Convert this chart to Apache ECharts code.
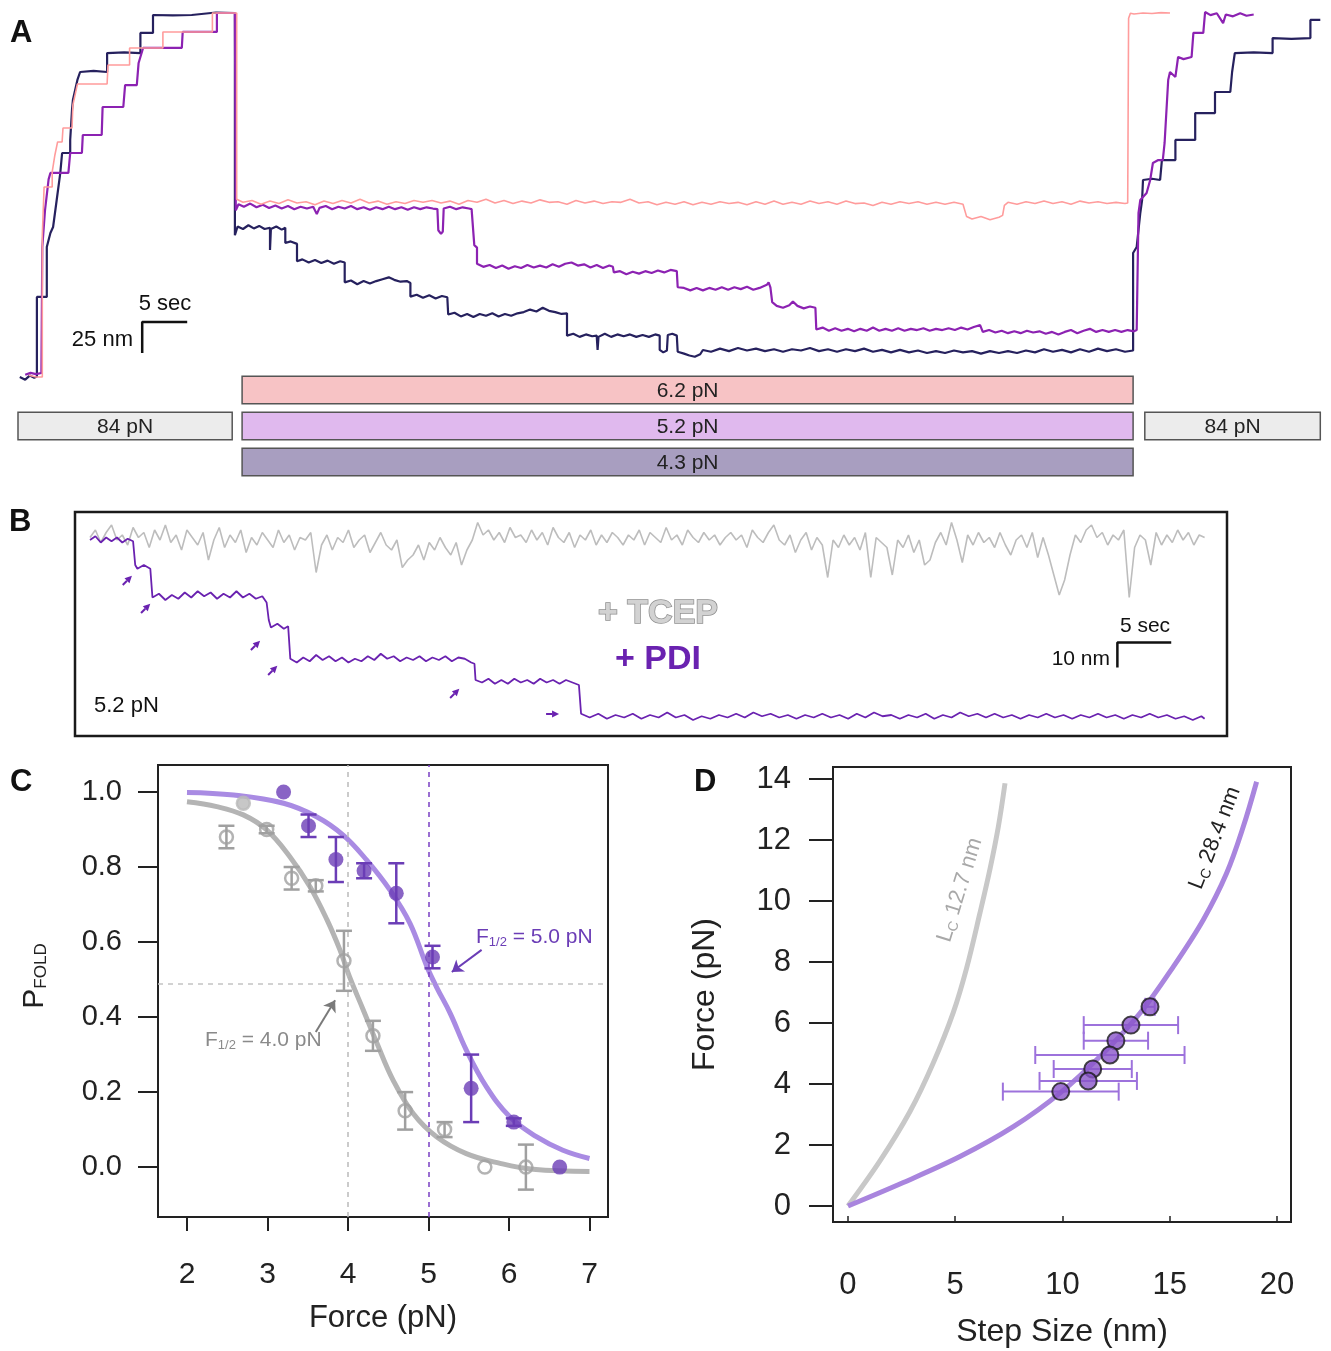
<!DOCTYPE html>
<html>
<head>
<meta charset="utf-8">
<script src="https://cdn.jsdelivr.net/npm/echarts@6/dist/echarts.min.js"></script>
<style>
html,body{margin:0;padding:0;background:#fff;}
#chart{width:1331px;height:1351px;}
</style>
</head>
<body>
<div id="chart"></div>
<script>
// ================= DATA =================
// Panel A: extension (nm) vs time (s), three traces
const traceNavy = [
[0.2,5.6],[0.8,3.5],[1.3,6.8],[1.8,5.0],[2.1,6.0],
[2.1,70.2],[3.2,70.2],[3.2,110.5],[3.6,121.8],[3.9,126.6],[4.3,148.4],[4.7,170.2],[4.9,186.3],[5.8,186.3],[5.8,196.8],[6.0,221],[6.1,229],[6.6,245.2],[6.9,251.6],[8.4,252.5],[9.9,251.6],[9.9,266.9],[11.8,267.5],[13.6,266.9],[13.6,283.1],[15.0,283.1],[15.0,297.6],[17.2,297.2],[19.3,297.6],[19.3,299.2],[22.0,299.6],[24.1,299.2],
[24.1,120],[24.4,127],[25,125],[25.6,128],[26.2,125.5],[26.8,127.5],[27.4,125],[28.0,126],[28.0,108.1],[28.1,125],[28.7,127],[29.3,124.5],[29.7,126],[29.7,113.7],[30.3,115],[31.0,113],[31.0,99],[31.6,100.5],[32.3,98],[33,100],[33.7,97.5],[34.4,99.5],[35.1,97],[35.8,99],[36.3,98],[36.3,82],[37,83.5],[37.7,80.5],[38.4,83],[39.1,81],[39.8,83],[40.5,84.5],[41.2,86],[41.8,84],[42.5,82.5],[43.2,83],[43.6,81.5],[43.6,70.5],[44.3,72],[45,69.5],[45.7,71.5],[46.4,69],[47.1,71],[47.7,70],[47.8,56],[48.5,57.5],[49.2,54.5],[49.9,56.5],[50.6,54],[51.3,56.5],[52,55],[52.7,57],[53.4,54.5],[54.1,56.5],[54.8,55],[55.5,57],[56.2,58],[56.9,60],[57.6,58.5],[58.3,61.5],[59,59],[59.7,58],[60.4,56.5],[61,57],[61,39],[61.7,40.5],[62.4,38],[63.1,40],[63.8,38.5],[64.3,39],[64.4,27.5],[64.5,38],[65.2,40.5],[65.9,38],[66.6,40],[67.3,38.5],[68,40],[68.7,38],[69.4,39.5],[70.1,38],[70.8,40],[71.3,39],[71.3,27.5],[71.7,25.5],[72.1,27],[72.2,39.5],[72.7,40.5],[73.2,39],[73.3,26],[74,24.5],[74.6,23],[75.2,22],[75.8,24],[76.1,27.4],[77,26],[78,28.5],[79,26.5],[80,29],[81,27],[82,28.5],[83,26.5],[84,28],[85,26],[86,28],[87,27],[88,29],[89,26.5],[90,28],[91,26],[92,28],[93,26.5],[94,28.5],[95,26],[96,27.5],[97,25.5],[98,27.5],[99,25.5],[100,27],[101,25],[102,26.5],[103,25],[104,27],[105,25.5],[106,26.5],[107,24.5],[108,26.5],[109,25],[110,26.5],[111,25],[112,27],[113,25.5],[114,28],[115,26],[116,27.5],[117,25.5],[118,28],[119,26],[120,28.5],[121,26.5],[122,28],[123,26],[123.9,27],
[123.9,105.6],[124.3,110.5],[124.7,137.9],[124.9,148.4],[125.0,164.5],[126.0,165.5],[126.9,164.5],[127.1,180.6],[128.6,180.6],[128.6,196.8],[130.8,196.8],[130.8,218.5],[133.0,218.5],[133.0,235.5],[134.7,235.5],[134.9,251.6],[135.2,266.9],[137.3,267.5],[139.4,266.9],[139.4,279.0],[141.5,278.4],[143.6,279.0],[143.6,293.6],[144.7,293.6]
];
const tracePurple = [
[0.8,7.5],[1.4,9.0],[2.0,8.0],[2.6,8.9],[2.7,8.9],
[2.7,110.5],[3.0,140],[3.4,165],[3.6,170.2],[5.6,170.2],[5.8,186.3],[7.1,186.3],[7.2,200.8],[9.3,200.8],[9.4,223.4],[11.7,223.4],[11.9,241.1],[13.2,241.1],[13.4,258.9],[13.9,271],[18.2,271],[18.3,283.9],[22.1,283.9],[22.1,299.2],[24.1,299.2],
[24.2,140],[24.5,145],[25.1,143],[25.8,145.5],[26.5,142.5],[27.2,144.5],[27.9,142],[28.6,144],[29.3,141.5],[30,143.5],[30.7,141],[31.4,143],[32.1,141.5],[32.8,143],[33.2,137],[33.5,142],[34.2,143.5],[34.9,141],[35.6,143],[36.3,141.5],[37,143.5],[37.7,141],[38.4,142.5],[39.1,140.5],[39.8,142.5],[40.5,141],[41.2,143],[41.9,141],[42.6,142.5],[43.3,140.5],[44,142.5],[44.7,141],[45.4,142.5],[46.1,141.5],[46.6,141],[46.7,124],[47.0,121],[47.2,123],[47.3,141.5],[48,143],[48.7,141],[49.4,142.5],[50.1,141.5],[50.4,141],[50.7,112],[51.0,110],[51.0,97],[51.7,94.5],[52.4,96],[53.1,93.5],[53.8,95.5],[54.5,93],[55.2,95],[55.9,93.5],[56.6,96],[57.3,94],[58,95.5],[58.7,94],[59.4,96.5],[60.1,94.5],[60.8,97],[61.5,98],[62.2,95.5],[62.9,96.5],[63.6,94],[64.3,96],[65,93.5],[65.7,95.5],[66.1,94.5],[66.2,90],[66.9,91],[67.6,88.5],[68.3,90.5],[69,89],[69.7,91],[70.4,89.5],[71.1,91.5],[71.8,90],[72.5,92],[73.2,91],[73.3,78],[74,77.5],[74.7,75.5],[75.4,77.5],[76.1,75.5],[76.8,77.5],[77.5,76],[78.2,78],[78.9,76],[79.6,78],[80.3,76.5],[81,78.5],[81.7,76],[82.4,77.5],[83.2,80],[83.4,82],[83.6,78],[83.8,66],[84.3,63],[85,61.5],[85.7,63.5],[86.1,66.5],[86.6,63],[87.3,61],[88,62.5],[88.6,61.5],[88.7,44],[89.4,45.5],[90.1,43],[90.8,45],[91.5,43],[92.2,44.5],[92.9,42.5],[93.6,44.5],[94.3,43],[95,45.5],[95.7,43],[96.4,44.5],[97.1,43],[97.8,45],[98.5,43],[99.2,44.5],[99.9,43.5],[100.6,45],[101.3,43],[102,44.5],[102.7,43.5],[103.4,45],[104.1,43.5],[104.8,45.5],[105.5,44],[106.2,46],[106.9,47.5],[107.2,42],[107.9,43.5],[108.6,41.5],[109.3,43],[110,41],[110.7,42.5],[111.4,41],[112.1,43],[112.8,41.5],[113.5,42.5],[114.2,40.5],[114.9,42],[115.6,40],[116.3,42],[117,43.5],[117.7,41],[118.4,43],[119.1,44.5],[119.8,42],[120.5,43.5],[121.2,42],[121.9,43.5],[122.6,42],[123.3,43.5],[124.0,42.5],[124.3,43.5],
[124.5,137.9],[124.7,148.4],[125.4,154],[125.8,164.5],[126.1,178.2],[126.7,180.6],[127.2,180.6],[127.4,194.4],[127.8,245.2],[128.0,251.6],[128.6,247.6],[128.9,263.7],[129.5,262],[130.4,263.7],[130.6,283.1],[131.7,283.1],[131.9,300],[132.5,297.5],[133.2,299],[133.9,291],[134.2,298],[135,296.5],[135.8,299],[136.5,297],[137.3,298]
];
const tracePink = [
[1.2,7.0],[2.0,5.6],[2.7,5.6],[2.7,120],[2.9,158.9],[3.8,158.9],[3.8,171],[4.1,184.7],[4.4,195.2],[4.9,195.2],[5.0,206.5],[6.0,206.5],[6.1,225],[6.6,241.9],[9.9,241.9],[10.0,257.3],[12.4,257.3],[12.4,271],[16.1,271],[16.1,283.9],[21.6,283.9],[21.6,299.2],[24.3,299.2],
[24.3,149],[25,146.5],[26,148],[27,145],[28,147.5],[29,145.5],[30,148.5],[31,146],[32,147],[33,144.5],[34,147.5],[35,145.5],[36,148],[37,146],[38,149],[39,146],[40,147.5],[41,145],[42,147],[43,145.5],[44,148],[45,146.5],[46,148],[47,146],[48,147.5],[49,145],[50,148],[51,146.5],[52,149],[53,146],[54,148],[55,145.5],[56,147.5],[57,146],[58,148.5],[59,146.5],[60,147],[61,145],[62,148],[63,146],[64,147.5],[65,145.5],[66,147],[67,146.5],[68,149],[69,146],[70,147],[71,144.5],[72,146.5],[73,145],[74,147],[75,144.5],[76,146.5],[77,145],[78,147],[79,145.5],[80,146.5],[81,144.5],[82,147],[83,145],[84,147.5],[85,145],[86,146.5],[87,145],[88,147.5],[89,145.5],[90,147],[91,145],[92,147.5],[93,145.5],[94,146],[95,144],[96,146.5],[97,145],[98,147],[99,145.5],[100,147],[101,145],[102,146.5],[103,145],[104,146.5],[105,145],[105.4,135],[106,133],[107,135],[108,132.5],[109,134.5],[109.4,136],[109.6,144],[110,146.5],[111,145],[112,147],[113,145.5],[114,147.5],[115,145.5],[116,147],[117,145],[118,147.5],[119,146],[120,147],[121,145.5],[122,146.5],[123,145.5],[123.3,146],
[123.4,295],[123.6,299],[124,298.4],[125,299.2],[126,298.8],[127,299.5],[128,299.2]
];
// Panel A: force protocol bars
const forceStart = [24.9, 24.9, 24.9, 0, 125.2];
const forceEnd   = [123.9, 123.9, 123.9, 23.8, 144.7];
const forceRow   = [0.5, 1.5, 2.5, 1.5, 1.5];
const forceLabels = ['6.2 pN', '5.2 pN', '4.3 pN', '84 pN', '84 pN'];

// Panel B: +TCEP trace sampled every 0.5 s (nm)
const tcepDt = 0.5;
const tcepTrace = [
77,80,75,79,82,76,78,74,81,77,79,73,80,76,82,75,78,72,80,77,
74,79,68,76,81,73,78,75,80,71,77,74,79,76,73,80,75,78,72,77,
76,79,63,74,78,72,77,75,80,73,76,78,71,75,79,74,72,76,65,68,
70,74,68,75,72,77,73,70,75,66,72,76,83,78,80,76,79,75,81,77,
78,75,80,76,79,74,81,77,75,79,73,78,76,80,74,78,75,79,77,74,
78,76,80,74,79,77,75,81,76,78,74,80,77,75,79,76,78,74,77,79,
76,78,73,80,77,75,79,82,76,74,78,71,76,79,72,77,74,61,76,73,
78,74,77,72,79,61,77,75,73,62,76,73,78,71,76,66,68,75,79,74,
83,76,67,78,74,79,75,77,73,79,74,70,76,78,73,79,69,77,70,62,
54,60,70,78,75,80,82,77,79,74,78,76,80,53,73,78,76,66,79,74,
78,75,80,76,79,74,78,77
];
// Panel B: +PDI trace (t s, nm)
const pdiTrace = [
[0,76],[0.5,77.5],[1,75],[1.5,77],[2,75.5],[2.5,77],[3,75],[3.5,76.5],[4.0,75.5],[4.2,66],[4.4,64.5],[5,66],[5.6,64.5],[5.8,53],[6.4,54.5],[7,52],[7.6,54],[8.2,52.5],[8.8,55],[9.4,53],[10,55.5],[10.6,53.5],[11.2,55],[11.8,52.5],[12.4,54.5],[13,53],[13.6,55.5],[14.2,53],[14.8,54.5],[15.4,52.5],[16,53.5],[16.4,51],[16.6,44],[16.8,41],[17.4,42.5],[18,40.5],[18.4,41.5],[18.6,28.5],[19.2,27],[19.8,29],[20.4,27.5],[21,30],[21.6,28],[22.2,29.5],[22.8,27.5],[23.4,29],[24,27],[24.6,28.5],[25.2,27.5],[25.8,29.5],[26.4,28],[27,30.5],[27.6,28.5],[28.2,29.5],[28.8,27.5],[29.4,29],[30,28],[30.6,29.5],[31.2,27.5],[31.8,29],[32.4,28],[33,29.5],[33.6,27.5],[34.2,29],[34.8,28.5],[35.4,27],[35.7,26.5],[35.8,20],[36.4,19],[37,20.5],[37.6,18.5],[38.2,20],[38.8,18.5],[39.4,20.5],[40,19],[40.6,20],[41.2,18.5],[41.8,20.5],[42.4,19],[43,20],[43.6,18.5],[44.2,20],[44.8,19],[45.4,18],[45.6,6.5],
[46.4,5],[47.2,6.5],[48,4.5],[48.8,6],[49.6,5],[50.4,6.5],[51.2,4.5],[52,6],[52.8,5],[53.6,7],[54.4,5],[55.2,6],[56,4],[56.8,5.5],[57.6,4.5],[58.4,6],[59.2,5],[60,6.5],[60.8,5],[61.6,7],[62.4,5.5],[63.2,6.5],[64,5],[64.8,6],[65.6,4.5],[66.4,6],[67.2,5],[68,6.5],[68.8,5],[69.6,6],[70.4,4.5],[71.2,6.5],[72,5],[72.8,7],[73.6,5.5],[74.4,6],[75.2,4.5],[76,6],[76.8,5],[77.6,6.5],[78.4,4.5],[79.2,6],[80,5],[80.8,7],[81.6,5.5],[82.4,6.5],[83.2,5],[84,6.5],[84.8,5],[85.6,6],[86.4,4.5],[87.2,6],[88,5],[88.8,6.5],[89.6,5],[90.4,6],[91.2,4.5],[92,6],[92.8,5],[93.6,6.5],[94.4,5],[95.2,6],[96,4.5],[96.8,6],[97.6,5],[98.4,6.5],[99.2,5],[100,6],[100.8,4.5],[101.6,5.5],[102.4,4],[103.2,5.5],[103.5,4.5]
];
// Panel B: folding-step arrows [t, nm, angle deg]
const pdiArrows = [[3.5,60,45],[5.2,48.8,45],[15.4,34,45],[17.0,24,45],[33.9,14.8,45],[43.0,6.4,0]];

// Panel C: P_fold vs force
const tcepForce = [2.49, 2.70, 2.99, 3.30, 3.60, 3.95, 4.31, 4.71, 5.20, 5.70, 6.21];
const tcepPfold = [0.88, 0.97, 0.90, 0.77, 0.75, 0.55, 0.35, 0.15, 0.10, 0.00, 0.00];
const tcepErr   = [0.03, 0.00, 0.01, 0.03, 0.015, 0.08, 0.04, 0.05, 0.02, 0.00, 0.06];
const pdiForce  = [3.20, 3.51, 3.85, 4.20, 4.60, 5.05, 5.53, 6.06, 6.63];
const pdiPfold  = [1.00, 0.91, 0.82, 0.79, 0.73, 0.56, 0.21, 0.12, 0.00];
const pdiErr    = [0.00, 0.03, 0.06, 0.02, 0.08, 0.03, 0.09, 0.01, 0.00];
const fitTcepF = [2.0, 2.37, 2.70, 2.99, 3.28, 3.53, 3.74, 3.90, 4.02, 4.19, 4.36, 4.56, 4.81, 5.10, 5.47, 5.89, 6.30, 7.0];
const fitTcepP = [0.974, 0.961, 0.939, 0.899, 0.827, 0.747, 0.659, 0.579, 0.507, 0.419, 0.330, 0.232, 0.143, 0.081, 0.036, 0.010, -0.006, -0.012];
const fitPdiF = [2.0, 2.58, 3.20, 3.61, 3.94, 4.23, 4.52, 4.77, 4.98, 5.10, 5.27, 5.47, 5.72, 6.01, 6.34, 6.67, 7.0];
const fitPdiP = [0.999, 0.992, 0.970, 0.934, 0.885, 0.819, 0.739, 0.650, 0.535, 0.480, 0.410, 0.312, 0.214, 0.134, 0.081, 0.045, 0.023];
const cXTicks = [2, 3, 4, 5, 6, 7];
const cYTicks = [0, 0.2, 0.4, 0.6, 0.8, 1.0];

// Panel D: force vs step size
const stepSize  = [14.08, 13.19, 12.49, 12.21, 11.41, 11.20, 9.92];
const stepForce = [6.53, 5.93, 5.42, 4.95, 4.49, 4.10, 3.75];
const stepErr   = [0.22, 2.20, 1.50, 3.48, 1.82, 2.27, 2.70];
const wlcShortX = [0, 1.49, 2.89, 3.98, 4.91, 5.53, 6.15, 6.62, 7.01, 7.32];
const wlcShortY = [0, 1.48, 3.10, 4.70, 6.35, 7.80, 9.60, 11.05, 12.44, 13.86];
const wlcLongX  = [0, 2.58, 5.22, 7.71, 9.88, 11.90, 13.61, 15.17, 16.56, 17.65, 18.43, 19.05];
const wlcLongY  = [0, 0.77, 1.62, 2.60, 3.70, 5.01, 6.32, 7.85, 9.38, 10.91, 12.44, 13.91];
const dXTicks = [0, 5, 10, 15, 20];
const dYTicks = [0, 2, 4, 6, 8, 10, 12, 14];

// ================= STYLE =================
const FONT = '"Liberation Sans", Arial, Helvetica, sans-serif';
const C_NAVY = '#26215e', C_PURP = '#8c22b2', C_PINK = '#ff9c9c';
const forceColors = ['#f7c3c5', '#e0b9ee', '#a89ec0', '#ececec', '#ececec'];
const C_PDI = '#6b3db6';

const zip = (a, b) => a.map((v, i) => [v, b[i]]);

function vErr(color, cap) {
  return function (params, api) {
    const x = api.value(0), y = api.value(1), e = api.value(2);
    if (!e) return { type: 'group', children: [] };
    const a = api.coord([x, y - e]), b = api.coord([x, y + e]);
    const st = { stroke: color, lineWidth: 2.5 };
    return { type: 'group', children: [
      { type: 'line', shape: { x1: a[0], y1: a[1], x2: b[0], y2: b[1] }, style: st },
      { type: 'line', shape: { x1: a[0] - cap, y1: a[1], x2: a[0] + cap, y2: a[1] }, style: st },
      { type: 'line', shape: { x1: b[0] - cap, y1: b[1], x2: b[0] + cap, y2: b[1] }, style: st }
    ]};
  };
}
function hErr(color, cap) {
  return function (params, api) {
    const x = api.value(0), y = api.value(1), e = api.value(2);
    const a = api.coord([x - e, y]), b = api.coord([x + e, y]);
    const st = { stroke: color, lineWidth: 2 };
    return { type: 'group', children: [
      { type: 'line', shape: { x1: a[0], y1: a[1], x2: b[0], y2: b[1] }, style: st },
      { type: 'line', shape: { x1: a[0], y1: a[1] - cap, x2: a[0], y2: a[1] + cap }, style: st },
      { type: 'line', shape: { x1: b[0], y1: b[1] - cap, x2: b[0], y2: b[1] + cap }, style: st }
    ]};
  };
}

const chart = echarts.init(document.getElementById('chart'), null, { renderer: 'canvas' });

const hiddenAxis = (g, min, max, inverse) => ({ gridIndex: g, type: 'value', min, max, inverse: !!inverse, show: false });

const option = {
  animation: false,
  backgroundColor: '#ffffff',
  textStyle: { fontFamily: FONT },
  grid: [
    { left: 18, top: 12, width: 1305, height: 372 },
    { left: 18, top: 372, width: 1305, height: 108 },
    { left: 90, top: 514, width: 1120, height: 216 },
    { left: 158, top: 765, width: 450, height: 452, show: true, borderColor: '#222', borderWidth: 2, backgroundColor: 'transparent' },
    { left: 833, top: 767, width: 458, height: 455, show: true, borderColor: '#222', borderWidth: 2, backgroundColor: 'transparent' }
  ],
  xAxis: [
    hiddenAxis(0, 0, 145),
    hiddenAxis(1, 0, 145),
    hiddenAxis(2, 0, 104),
    { gridIndex: 3, type: 'value', min: 1.64, max: 7.23,
      name: 'Force (pN)', nameLocation: 'middle', nameGap: 86,
      nameTextStyle: { fontSize: 31, color: '#222', fontFamily: FONT },
      axisLine: { show: true, onZero: false, lineStyle: { color: '#222', width: 2 } },
      axisTick: { show: true, inside: false, length: 14, lineStyle: { color: '#222', width: 2 }, customValues: cXTicks },
      axisLabel: { fontSize: 30, color: '#222', margin: 43, customValues: cXTicks, fontFamily: FONT },
      splitLine: { show: false } },
    { gridIndex: 4, type: 'value', min: -0.699, max: 20.653,
      name: 'Step Size (nm)', nameLocation: 'middle', nameGap: 94,
      nameTextStyle: { fontSize: 32, color: '#222', fontFamily: FONT },
      axisLine: { show: true, onZero: false, lineStyle: { color: '#222', width: 2 } },
      axisTick: { show: true, inside: true, length: 6, lineStyle: { color: '#222', width: 1.5 }, customValues: dXTicks },
      axisLabel: { fontSize: 31, color: '#222', margin: 48, customValues: dXTicks, fontFamily: FONT },
      splitLine: { show: false } }
  ],
  yAxis: [
    hiddenAxis(0, 0, 300),
    hiddenAxis(1, 0, 3, true),
    hiddenAxis(2, 0, 86.4),
    { gridIndex: 3, type: 'value', min: -0.133, max: 1.072,
      name: '{p|P}{s|FOLD}', nameLocation: 'middle', nameGap: 108, nameRotate: 90,
      nameTextStyle: { color: '#222', padding: [0, 0, 0, 30], rich: { p: { fontSize: 30, color: '#222', fontFamily: FONT }, s: { fontSize: 17, color: '#222', fontFamily: FONT, verticalAlign: 'bottom', padding: [12, 0, 0, 0] } } },
      axisLine: { show: true, onZero: false, lineStyle: { color: '#222', width: 2 } },
      axisTick: { show: true, inside: false, length: 20, lineStyle: { color: '#222', width: 2 }, customValues: cYTicks },
      axisLabel: { fontSize: 29, color: '#222', margin: 36, customValues: cYTicks, formatter: v => (+v).toFixed(1), fontFamily: FONT },
      splitLine: { show: false } },
    { gridIndex: 4, type: 'value', min: -0.525, max: 14.393,
      name: 'Force (pN)', nameLocation: 'middle', nameGap: 112, nameRotate: 90,
      nameTextStyle: { fontSize: 32, color: '#222', fontFamily: FONT },
      axisLine: { show: true, onZero: false, lineStyle: { color: '#222', width: 2 } },
      axisTick: { show: true, inside: false, length: 24, lineStyle: { color: '#222', width: 2 }, customValues: dYTicks },
      axisLabel: { fontSize: 31, color: '#222', margin: 42, customValues: dYTicks, fontFamily: FONT },
      splitLine: { show: false } }
  ],
  series: [
    // ---- Panel A traces
    { type: 'line', xAxisIndex: 0, yAxisIndex: 0, data: traceNavy, showSymbol: false, silent: true,
      lineStyle: { color: C_NAVY, width: 2.2 } },
    { type: 'line', xAxisIndex: 0, yAxisIndex: 0, data: tracePurple, showSymbol: false, silent: true,
      lineStyle: { color: C_PURP, width: 2.2 } },
    { type: 'line', xAxisIndex: 0, yAxisIndex: 0, data: tracePink, showSymbol: false, silent: true,
      lineStyle: { color: C_PINK, width: 1.6 } },
    // scale bar A: 5 s x 25 nm
    { type: 'line', xAxisIndex: 0, yAxisIndex: 0, data: [[18.8, 50], [13.8, 50], [13.8, 25]], showSymbol: false, silent: true,
      lineStyle: { color: '#111', width: 2.5 } },
    // force protocol bars
    { type: 'custom', xAxisIndex: 1, yAxisIndex: 1, silent: true,
      data: forceStart.map((s, i) => [s, forceEnd[i], forceRow[i], i]),
      encode: { x: [0, 1], y: 2 },
      renderItem: (params, api) => {
        const i = api.value(3);
        const p1 = api.coord([api.value(0), api.value(2) - 0.38]);
        const p2 = api.coord([api.value(1), api.value(2) + 0.38]);
        return { type: 'group', children: [
          { type: 'rect', shape: { x: p1[0], y: p1[1], width: p2[0] - p1[0], height: p2[1] - p1[1] },
            style: { fill: forceColors[i], stroke: '#555', lineWidth: 1.5 } },
          { type: 'text', style: { text: forceLabels[i], x: (p1[0] + p2[0]) / 2, y: (p1[1] + p2[1]) / 2 + 1,
            align: 'center', verticalAlign: 'middle', fontSize: 21, fill: '#222', fontFamily: FONT } }
        ]};
      } },
    // ---- Panel B
    { type: 'line', xAxisIndex: 2, yAxisIndex: 2, data: tcepTrace.map((v, i) => [i * tcepDt, v]), showSymbol: false, silent: true,
      lineStyle: { color: '#bdbdbd', width: 1.6 } },
    { type: 'line', xAxisIndex: 2, yAxisIndex: 2, data: pdiTrace, showSymbol: false, silent: true,
      lineStyle: { color: '#6a22b0', width: 1.8 } },
    { type: 'line', xAxisIndex: 2, yAxisIndex: 2, data: [[100.4, 35], [95.4, 35], [95.4, 25]], showSymbol: false, silent: true,
      lineStyle: { color: '#111', width: 2.5 } },
    { type: 'custom', xAxisIndex: 2, yAxisIndex: 2, silent: true, data: pdiArrows, encode: { x: 0, y: 1 },
      renderItem: (params, api) => {
        const c = api.coord([api.value(0), api.value(1)]);
        const a = api.value(2) * Math.PI / 180;
        const dx = Math.cos(a), dy = -Math.sin(a), px = -dy, py = dx;
        const tip = [c[0] + 6 * dx, c[1] + 6 * dy];
        const base = [tip[0] - 7 * dx, tip[1] - 7 * dy];
        return { type: 'group', children: [
          { type: 'line', shape: { x1: c[0] - 7 * dx, y1: c[1] - 7 * dy, x2: base[0], y2: base[1] }, style: { stroke: '#6a22b0', lineWidth: 2 } },
          { type: 'polygon', shape: { points: [tip, [base[0] + 3.5 * px, base[1] + 3.5 * py], [base[0] - 3.5 * px, base[1] - 3.5 * py]] }, style: { fill: '#6a22b0' } }
        ]};
      } },
    // ---- Panel C
    { type: 'line', xAxisIndex: 3, yAxisIndex: 3, data: zip(fitTcepF, fitTcepP), smooth: 0.4, showSymbol: false, silent: true,
      lineStyle: { color: '#b4b4b4', width: 5 }, z: 3,
      markLine: { silent: true, symbol: ['none', 'none'], label: { show: false }, animation: false,
        data: [
          { xAxis: 4.0, lineStyle: { type: [5, 5], color: '#bbbbbb', width: 1.5 } },
          { yAxis: 0.49, lineStyle: { type: [5, 5], color: '#c4c4c4', width: 1.5 } },
          [ { coord: [3.60, 0.36], symbol: 'none', lineStyle: { type: 'solid', color: '#7a7a7a', width: 2 } },
            { coord: [3.84, 0.445], symbol: 'arrow', symbolSize: 11 } ]
        ] } },
    { type: 'line', xAxisIndex: 3, yAxisIndex: 3, data: zip(fitPdiF, fitPdiP), smooth: 0.4, showSymbol: false, silent: true,
      lineStyle: { color: '#a98be3', width: 5 }, z: 3,
      markLine: { silent: true, symbol: ['none', 'none'], label: { show: false }, animation: false,
        data: [
          { xAxis: 5.0, lineStyle: { type: [5, 5], color: '#7a3fc4', width: 1.5 } },
          [ { coord: [5.66, 0.579], symbol: 'none', lineStyle: { type: 'solid', color: '#6b3db6', width: 2 } },
            { coord: [5.29, 0.52], symbol: 'arrow', symbolSize: 11 } ]
        ] } },
    { type: 'custom', xAxisIndex: 3, yAxisIndex: 3, silent: true, z: 4,
      data: tcepForce.map((f, i) => [f, tcepPfold[i], tcepErr[i]]), encode: { x: 0, y: 1 }, renderItem: vErr('#a0a0a0', 8) },
    { type: 'custom', xAxisIndex: 3, yAxisIndex: 3, silent: true, z: 4,
      data: pdiForce.map((f, i) => [f, pdiPfold[i], pdiErr[i]]), encode: { x: 0, y: 1 }, renderItem: vErr(C_PDI, 8) },
    { type: 'scatter', xAxisIndex: 3, yAxisIndex: 3, silent: true, z: 5, symbol: 'circle', symbolSize: 13,
      data: tcepForce.map((f, i) => i === 1
        ? { value: [f, tcepPfold[i]], itemStyle: { color: '#b9b9b9', borderColor: '#b9b9b9' } }
        : { value: [f, tcepPfold[i]] }),
      itemStyle: { color: 'rgba(255,255,255,0)', borderColor: '#a0a0a0', borderWidth: 2.5 } },
    { type: 'scatter', xAxisIndex: 3, yAxisIndex: 3, silent: true, z: 5, symbol: 'circle', symbolSize: 15,
      data: zip(pdiForce, pdiPfold), itemStyle: { color: C_PDI } },
    // ---- Panel D
    { type: 'line', xAxisIndex: 4, yAxisIndex: 4, data: zip(wlcShortX, wlcShortY), smooth: 0.35, showSymbol: false, silent: true,
      lineStyle: { color: '#c8c8c8', width: 5 } },
    { type: 'line', xAxisIndex: 4, yAxisIndex: 4, data: zip(wlcLongX, wlcLongY), smooth: 0.35, showSymbol: false, silent: true,
      lineStyle: { color: '#a985de', width: 5 } },
    { type: 'custom', xAxisIndex: 4, yAxisIndex: 4, silent: true, z: 4,
      data: stepSize.map((s, i) => [s, stepForce[i], stepErr[i]]), encode: { x: 0, y: 1 }, renderItem: hErr('#9d72dc', 9) },
    { type: 'scatter', xAxisIndex: 4, yAxisIndex: 4, silent: true, z: 5, symbol: 'circle', symbolSize: 17,
      data: zip(stepSize, stepForce), itemStyle: { color: '#8a55c9', borderColor: '#1a1a1a', borderWidth: 2 } }
  ],
  graphic: [
    { type: 'text', x: 10, y: 33, style: { text: 'A', fontSize: 31, fontWeight: 'bold', fill: '#111', verticalAlign: 'middle', fontFamily: FONT } },
    { type: 'text', x: 9, y: 522, style: { text: 'B', fontSize: 31, fontWeight: 'bold', fill: '#111', verticalAlign: 'middle', fontFamily: FONT } },
    { type: 'text', x: 10, y: 782, style: { text: 'C', fontSize: 31, fontWeight: 'bold', fill: '#111', verticalAlign: 'middle', fontFamily: FONT } },
    { type: 'text', x: 694, y: 782, style: { text: 'D', fontSize: 31, fontWeight: 'bold', fill: '#111', verticalAlign: 'middle', fontFamily: FONT } },
    // A scale bar labels
    { type: 'text', x: 165, y: 304, style: { text: '5 sec', fontSize: 22, fill: '#111', align: 'center', verticalAlign: 'middle', fontFamily: FONT } },
    { type: 'text', x: 133, y: 340, style: { text: '25 nm', fontSize: 22, fill: '#111', align: 'right', verticalAlign: 'middle', fontFamily: FONT } },
    // B box and labels
    { type: 'rect', shape: { x: 75, y: 512, width: 1152, height: 224 }, style: { fill: 'none', stroke: '#1a1a1a', lineWidth: 2.5 }, z: 10 },
    { type: 'text', x: 658, y: 614, style: { text: '+ TCEP', fontSize: 34, fontWeight: 'bold', fill: '#d2d2d2', stroke: '#8f8f8f', lineWidth: 1.5, align: 'center', verticalAlign: 'middle', fontFamily: FONT } },
    { type: 'text', x: 658, y: 660, style: { text: '+ PDI', fontSize: 34, fontWeight: 'bold', fill: '#6a22b0', align: 'center', verticalAlign: 'middle', fontFamily: FONT } },
    { type: 'text', x: 94, y: 706, style: { text: '5.2 pN', fontSize: 22, fill: '#111', align: 'left', verticalAlign: 'middle', fontFamily: FONT } },
    { type: 'text', x: 1145, y: 626, style: { text: '5 sec', fontSize: 21, fill: '#111', align: 'center', verticalAlign: 'middle', fontFamily: FONT } },
    { type: 'text', x: 1110, y: 659, style: { text: '10 nm', fontSize: 21, fill: '#111', align: 'right', verticalAlign: 'middle', fontFamily: FONT } },
    // C annotations
    { type: 'text', x: 476, y: 937, style: { text: '{a|F}{s|1/2}{a| = 5.0 pN}', align: 'left', verticalAlign: 'middle',
      rich: { a: { fontSize: 21, fill: '#6b3db6', fontFamily: FONT }, s: { fontSize: 13, fill: '#6b3db6', fontFamily: FONT, verticalAlign: 'bottom', padding: [10, 0, 0, 0] } } } },
    { type: 'text', x: 205, y: 1040, style: { text: '{a|F}{s|1/2}{a| = 4.0 pN}', align: 'left', verticalAlign: 'middle',
      rich: { a: { fontSize: 21, fill: '#8a8a8a', fontFamily: FONT }, s: { fontSize: 13, fill: '#8a8a8a', fontFamily: FONT, verticalAlign: 'bottom', padding: [10, 0, 0, 0] } } } },
    // D annotations
    { type: 'text', x: 960, y: 890, rotation: 1.27, style: { text: '{a|L}{s|C}{a| 12.7 nm}', align: 'center', verticalAlign: 'middle',
      rich: { a: { fontSize: 22, fill: '#a8a8a8', fontFamily: FONT }, s: { fontSize: 14, fill: '#a8a8a8', fontFamily: FONT, verticalAlign: 'bottom', padding: [10, 0, 0, 0] } } } },
    { type: 'text', x: 1215, y: 838, rotation: 1.2, style: { text: '{a|L}{s|C}{a| 28.4 nm}', align: 'center', verticalAlign: 'middle',
      rich: { a: { fontSize: 22, fill: '#222', fontFamily: FONT }, s: { fontSize: 14, fill: '#222', fontFamily: FONT, verticalAlign: 'bottom', padding: [10, 0, 0, 0] } } } }
  ]
};
chart.setOption(option);
</script>
</body>
</html>
